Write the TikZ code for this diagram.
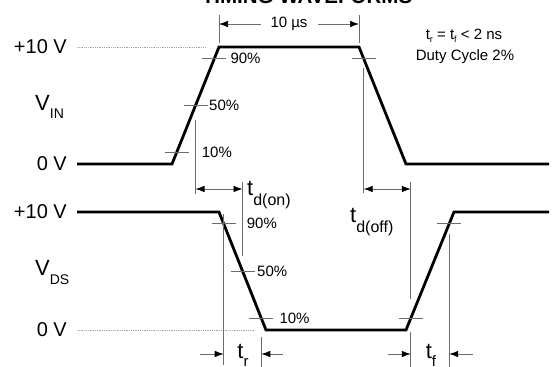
\documentclass[tikz,border=0pt]{standalone}
\usepackage{fontspec}
\setmainfont{Liberation Sans}
\usetikzlibrary{arrows.meta,calc}
\newcommand{\sublbl}[4][14]{#2\raisebox{-#4}{\fontsize{#1}{#1}\selectfont #3}}

\begin{document}
\begin{tikzpicture}[x=1pt, y=-1pt,
    wave/.style={line width=2.8pt, line join=miter},
    guide/.style={gray!85!black, line width=0.7pt},
    levelline/.style={gray!70, line width=0.8pt, densely dotted},
    tickmark/.style={gray!85!black, line width=0.7pt},
    dimarrow/.style={guide, {Latex[length=9pt,width=6.5pt,color=black]}-{Latex[length=9pt,width=6.5pt,color=black]}},
    onearrow/.style={guide, -{Latex[length=9pt,width=6.5pt,color=black]}},
    big/.style={inner sep=0pt, text=black, font=\fontsize{20}{20}\selectfont},
    timelbl/.style={inner sep=0pt, text=black, font=\fontsize{22}{22}\selectfont},
    pct/.style={inner sep=0pt, anchor=west, font=\fontsize{15}{15}\selectfont},
    note/.style={inner sep=0pt, font=\fontsize{15}{15}\selectfont}]
    \useasboundingbox (0,0) rectangle (552,367);

    % Titre
    \node[inner sep=0pt, anchor=base, font=\bfseries\fontsize{20.5}{20.5}\selectfont] (title) at (307,3.5) {TIMING WAVEFORMS};

    % Points des signaux
    \coordinate (in0) at (77,164);
    \coordinate (inA) at (172,164);
    \coordinate (inB) at (219,47);
    \coordinate (inC) at (359,47);
    \coordinate (inD) at (406,164);
    \coordinate (inE) at (549,164);
    \coordinate (ds0) at (77,212);
    \coordinate (dsA) at (219,212);
    \coordinate (dsB) at (266,330);
    \coordinate (dsC) at (406,330);
    \coordinate (dsD) at (454,212);
    \coordinate (dsE) at (549,212);

    % Points 10 / 50 / 90 %
    \coordinate (in10) at ($(inA)!0.1!(inB)$);
    \coordinate (in50) at ($(inA)!0.5!(inB)$);
    \coordinate (in90) at ($(inA)!0.9!(inB)$);
    \coordinate (off90) at ($(inD)!0.9!(inC)$);
    \coordinate (ds90) at ($(dsB)!0.9!(dsA)$);
    \coordinate (ds50) at ($(dsB)!0.5!(dsA)$);
    \coordinate (ds10) at ($(dsB)!0.1!(dsA)$);
    \coordinate (up10) at ($(dsC)!0.1!(dsD)$);
    \coordinate (up90) at ($(dsC)!0.9!(dsD)$);

    % Niveaux des cotes
    \coordinate (yus) at (0,24);
    \coordinate (ydel) at (0,189);
    \coordinate (ytr) at (0,354);

    % Etiquettes de tension
    \node[big, anchor=east] (hiIn) at (67,47) {+10 V};
    \node[big, anchor=east] (loIn) at (67,164) {0 V};
    \node[timelbl, anchor=base west] (vin) at (35,110) {\sublbl{V}{IN}{8pt}};
    \node[big, anchor=east] (hiDs) at (67,212) {+10 V};
    \node[big, anchor=east] (loDs) at (67,330) {0 V};
    \node[timelbl, anchor=base west] (vds) at (35,275) {\sublbl{V}{DS}{9pt}};

    % Lignes de niveau
    \draw[levelline] (in0 |- inB) -- ($(inB)+(-13,0)$);
    \draw[levelline] (ds0 |- dsB) -- ($(dsB)+(-12,0)$);

    % Signaux
    \draw[wave] (in0) -- (inA) -- (inB) -- (inC) -- (inD) -- (inE);
    \draw[wave] (ds0) -- (dsA) -- (dsB) -- (dsC) -- (dsD) -- (dsE);

    % Reperes
    \foreach \c in {in10,in50,in90,off90,ds90,ds50,ds10,up10,up90}
        \draw[tickmark] ($(\c)+(-12,0)$) -- ($(\c)+(12,0)$);

    \node[pct] (pin90) at ($(in90)+(16,0)$) {90\%};
    \node[pct] (pin50) at ($(in50)+(13.5,0)$) {50\%};
    \node[pct] (pin10) at ($(in10)+(25,0)$) {10\%};
    \node[pct] (pds90) at ($(ds90)+(23,0)$) {90\%};
    \node[pct] (pds50) at ($(ds50)+(14.5,0)$) {50\%};
    \node[pct] (pds10) at ($(ds10)+(18,0)$) {10\%};

    % Lignes de rappel
    \draw[guide] (inB) ++(0,-4) -- ++(0,-28);
    \draw[guide] (inC) ++(0,-4) -- ++(0,-28);
    \draw[guide] (in50) ++(0,14) -- ++(0,74);
    \draw[guide] (ds50) ++(0,-89) -- ++(0,74);
    \draw[guide] (off90) ++(0,9) -- ++(0,125);
    \draw[guide] (up10) ++(0,-136) -- ++(0,117);
    \draw[guide] (up10) ++(0,14) -- ++(0,35);
    \draw[guide] (ds90) ++(0,-10) -- ++(0,151);
    \draw[guide] (ds10) ++(0,19) -- ++(0,30);
    \draw[guide] (up90) ++(0,10) -- ++(0,141);

    % Cotes
    \draw[dimarrow] (inB |- yus) -- (inC |- yus)
        node[midway, fill=white, text=black, inner xsep=10pt, inner ysep=1pt, font=\fontsize{15}{15}\selectfont] (width) {10 µs};
    \draw[dimarrow] (in50 |- ydel) -- (ds50 |- ydel);
    \draw[dimarrow] (off90 |- ydel) -- (up10 |- ydel);

    \coordinate (trL) at (200,354);
    \coordinate (trR) at (283,354);
    \coordinate (tfL) at (388,354);
    \coordinate (tfR) at (473,354);
    \draw[onearrow] (trL) -- (ds90 |- ytr);
    \draw[onearrow] (trR) -- (ds10 |- ytr);
    \draw[onearrow] (tfL) -- (up10 |- ytr);
    \draw[onearrow] (tfR) -- (up90 |- ytr);

    % Etiquettes des temps
    \node[timelbl, anchor=base west] (tdon) at (247,195) {\sublbl[16]{t}{d(on)}{10pt}};
    \node[timelbl, anchor=base west] (tdoff) at (350,222) {\sublbl[16]{t}{d(off)}{10pt}};
    \node[timelbl, anchor=base] (tr) at (243,358) {\sublbl[15]{t}{r}{8pt}};
    \node[timelbl, anchor=base] (tf) at (431,358) {\sublbl[15]{t}{f}{8pt}};

    % Conditions
    \node[note] (cond) at (464,36) {\sublbl[9]{t}{r}{3pt} = \sublbl[9]{t}{f}{3pt} < 2 ns};
    \node[note] (duty) at (465,57) {Duty Cycle 2\%};
\end{tikzpicture}
\end{document}
